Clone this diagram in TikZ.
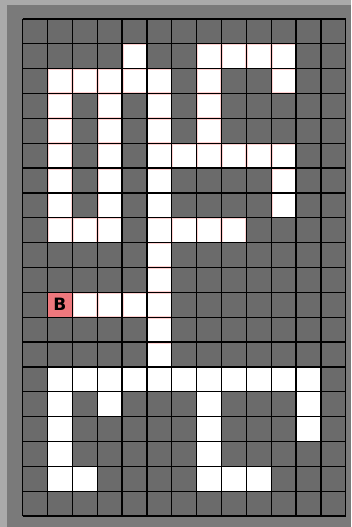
\documentclass[tikz,border=0pt]{standalone}
\usepackage{fontspec}
\setsansfont{DejaVu Sans}
\definecolor{bandgray}{RGB}{170,170,170}
\definecolor{framegray}{RGB}{122,122,122}
\definecolor{cellgray}{RGB}{107,107,107}
\definecolor{bpink}{RGB}{238,120,125}
\tikzset{
  whitecell/.style={fill=white},
  pathcell/.style={fill=white,draw=red!18,line width=0.6pt},
  gridline/.style={draw=black,line width=1.3pt},
}
\begin{document}
\begin{tikzpicture}[x=1pt,y=-1pt]
\useasboundingbox (0,0) rectangle (351,527);
\fill[bandgray] (0,0) rectangle (351,527);
\fill[framegray] (7,5) rectangle (351,527);
\def\L{22.7}\def\T{19}\def\C{24.85}
\fill[cellgray] (\L,\T) rectangle ({\L+13*\C},{\T+20*\C});
% path cells (upper part, faint red edge)
\foreach \r/\c in {1/4,1/7,1/8,1/9,1/10,
  2/1,2/2,2/3,2/4,2/5,2/7,2/10,
  3/1,3/3,3/5,3/7,
  4/1,4/3,4/5,4/7,
  5/1,5/3,5/5,5/6,5/7,5/8,5/9,5/10,
  6/1,6/3,6/5,6/10,
  7/1,7/3,7/5,7/10,
  8/1,8/2,8/3,8/5,8/6,8/7,8/8,
  9/5,10/5,11/2,11/3,11/4,11/5,12/5,13/5}
  \filldraw[pathcell] ({\L+\c*\C+0.8},{\T+\r*\C+0.8}) rectangle ({\L+(\c+1)*\C-0.8},{\T+(\r+1)*\C-0.8});
% lower cells
\foreach \r/\c in {14/1,14/2,14/3,14/4,14/5,14/6,14/7,14/8,14/9,14/10,14/11,
  15/1,15/3,15/7,15/11,
  16/1,16/7,16/11,
  17/1,17/7,
  18/1,18/2,18/7,18/8,18/9}
  \fill[whitecell] ({\L+\c*\C},{\T+\r*\C}) rectangle ({\L+(\c+1)*\C},{\T+(\r+1)*\C});
% B cell
\fill[bpink] ({\L+1*\C},{\T+11*\C}) rectangle ({\L+2*\C},{\T+12*\C});
\node[font=\sffamily\bfseries\fontsize{17}{17}\selectfont,text=black,inner sep=0pt] (B) at ({\L+1.5*\C},{\T+11.5*\C}) {B};
% grid lines
\foreach \i in {0,...,13}
  \draw[gridline] ({\L+\i*\C},\T) -- ({\L+\i*\C},{\T+20*\C});
\foreach \j in {0,...,20}
  \draw[gridline] (\L,{\T+\j*\C}) -- ({\L+13*\C},{\T+\j*\C});
\end{tikzpicture}
\end{document}
